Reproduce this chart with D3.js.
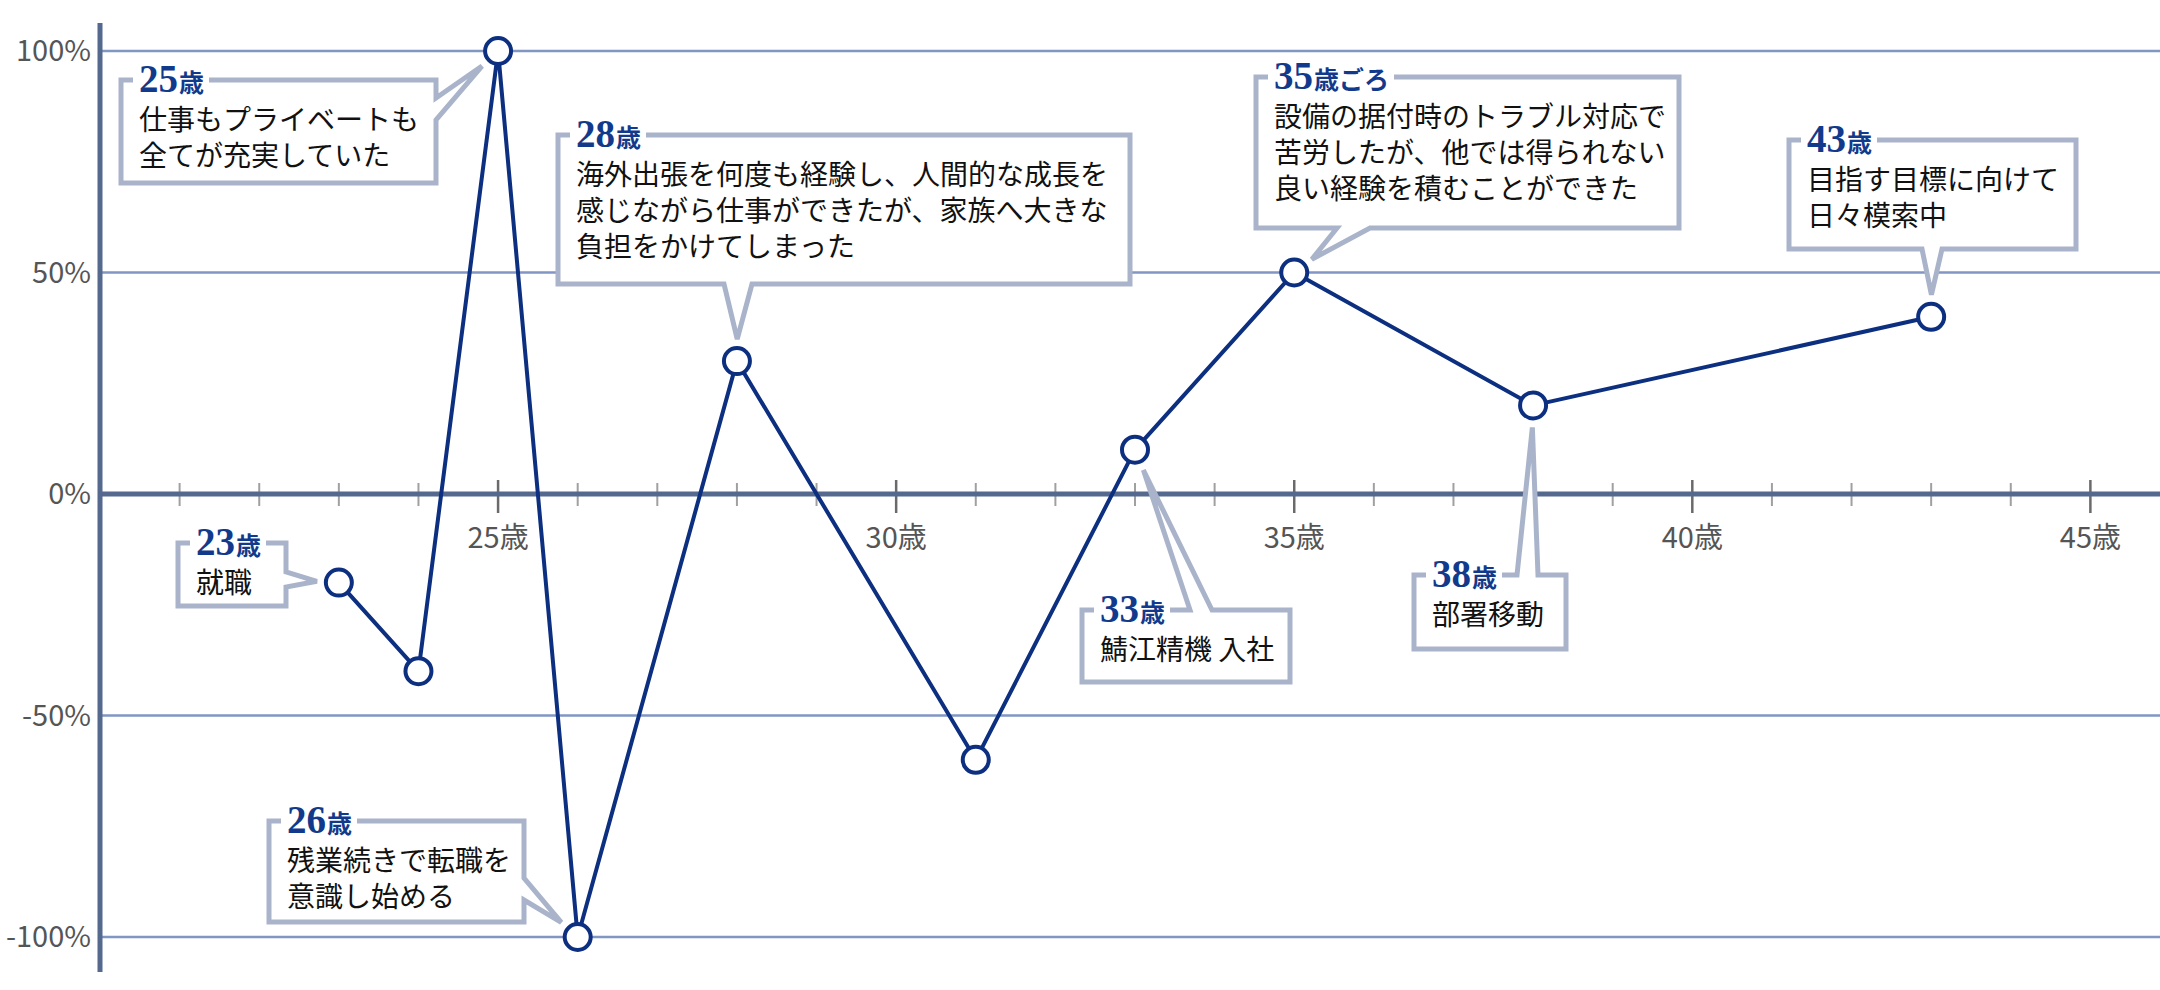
<!DOCTYPE html>
<html>
<head>
<meta charset="utf-8">
<script src="https://cdn.jsdelivr.net/npm/d3@7"></script>
<style>
  body { margin: 0; background: #fff; }
  svg { display: block; }
</style>
</head>
<body>
<svg id="chart" width="2160" height="990"></svg>
<script>
// ---- data ----
const ages = [23, 24, 25, 26, 28, 31, 33, 35, 38, 43];
const values = [-20, -40, 100, -100, 30, -60, 10, 50, 20, 40];

const yTicks = [100, 50, 0, -50, -100];
const xMajor = [25, 30, 35, 40, 45];
const xMinor = d3.range(21, 46).filter(a => a % 5 != 0);

const noteAges = [23, 25, 26, 28, 33, 35, 38, 43];
const noteNums = ["23", "25", "26", "28", "33", "35", "38", "43"];
const noteSuffix = ["歳", "歳", "歳", "歳", "歳", "歳ごろ", "歳", "歳"];
const noteLines = [
    ["就職"],
    ["仕事もプライベートも", "全てが充実していた"],
    ["残業続きで転職を", "意識し始める"],
    ["海外出張を何度も経験し、人間的な成長を", "感じながら仕事ができたが、家族へ大きな", "負担をかけてしまった"],
    ["鯖江精機 入社"],
    ["設備の据付時のトラブル対応で", "苦労したが、他では得られない", "良い経験を積むことができた"],
    ["部署移動"],
    ["目指す目標に向けて", "日々模索中"]
];

// box layout (pixels): [left, top, right, bottom], side of the pointer, pointer base
const noteBoxes = [
    {r: [178, 543, 286, 606], side: "right", base: [572, 587]},
    {r: [121, 80, 436, 183], side: "right", base: [98, 120]},
    {r: [269, 821, 524, 922], side: "right", base: [878, 900]},
    {r: [558, 135, 1130, 284], side: "bottom", base: [724, 752]},
    {r: [1082, 610, 1290, 682], side: "top", base: [1190, 1212]},
    {r: [1256, 77, 1679, 228], side: "bottom", base: [1337, 1370]},
    {r: [1414, 575, 1566, 649], side: "top", base: [1517, 1538]},
    {r: [1789, 140, 2076, 249], side: "bottom", base: [1922, 1942]}
];

const navy = "#0c2f80";
const boxColor = "#a9b4cb";
const gridColor = "#8196c3";
const axisColor = "#55698f";
const jpFont = "'Noto Sans CJK JP', 'Noto Sans', sans-serif";

const svg = d3.select("#chart");

const x = d3.scaleLinear().domain([20, 46]).range([100, 2170]);
const y = d3.scaleLinear().domain([-100, 100]).range([937, 51]);

// gridlines
svg.append("g")
    .selectAll("line")
    .data(yTicks.filter(d => d != 0))
    .join("line")
    .attr("x1", x(20)).attr("x2", 2160)
    .attr("y1", d => y(d)).attr("y2", d => y(d))
    .attr("stroke", gridColor)
    .attr("stroke-width", 2.5);

// y labels
svg.append("g")
    .selectAll("text")
    .data(yTicks)
    .join("text")
    .attr("x", 91)
    .attr("y", d => y(d) + 10)
    .attr("text-anchor", "end")
    .attr("font-family", jpFont)
    .attr("font-size", 29)
    .attr("fill", "#555")
    .text(d => d + "%");

// x axis (0% line) with ticks
const xAxis = svg.append("g");
xAxis.selectAll("line.minor")
    .data(xMinor)
    .join("line")
    .attr("class", "minor")
    .attr("x1", d => x(d)).attr("x2", d => x(d))
    .attr("y1", y(0) - 11).attr("y2", y(0) + 12)
    .attr("stroke", "#a0a0a0")
    .attr("stroke-width", 2);
xAxis.selectAll("line.major")
    .data(xMajor)
    .join("line")
    .attr("class", "major")
    .attr("x1", d => x(d)).attr("x2", d => x(d))
    .attr("y1", y(0) - 14).attr("y2", y(0) + 19)
    .attr("stroke", "#6a6a6a")
    .attr("stroke-width", 2.5);
xAxis.append("line")
    .attr("x1", x(20)).attr("x2", 2160)
    .attr("y1", y(0)).attr("y2", y(0))
    .attr("stroke", axisColor)
    .attr("stroke-width", 5);
xAxis.selectAll("text")
    .data(xMajor)
    .join("text")
    .attr("x", d => x(d))
    .attr("y", y(0) + 54)
    .attr("text-anchor", "middle")
    .attr("font-family", jpFont)
    .attr("font-size", 29)
    .attr("fill", "#555")
    .text(d => d + "歳");

// y axis line
svg.append("line")
    .attr("x1", x(20)).attr("x2", x(20))
    .attr("y1", 23).attr("y2", 972)
    .attr("stroke", axisColor)
    .attr("stroke-width", 5);

// annotation boxes
function boxPath(b, tip) {
    let [x0, y0, x1, y1] = b.r;
    let [a, c] = b.base;
    let p = d3.path();
    p.moveTo(x0, y0);
    if (b.side == "top") {
        p.lineTo(a, y0); p.lineTo(tip[0], tip[1]); p.lineTo(c, y0);
    }
    p.lineTo(x1, y0);
    if (b.side == "right") {
        p.lineTo(x1, a); p.lineTo(tip[0], tip[1]); p.lineTo(x1, c);
    }
    p.lineTo(x1, y1);
    if (b.side == "bottom") {
        p.lineTo(c, y1); p.lineTo(tip[0], tip[1]); p.lineTo(a, y1);
    }
    p.lineTo(x0, y1);
    p.closePath();
    return p.toString();
}

const notes = svg.append("g");
noteAges.forEach(function(age, i) {
    let b = noteBoxes[i];
    let v = values[ages.indexOf(age)];
    let cx = x(age), cy = y(v);
    let [x0, y0, x1, y1] = b.r;
    let mx, my;
    if (b.side == "right") { mx = x1; my = (b.base[0] + b.base[1]) / 2; }
    else if (b.side == "top") { mx = (b.base[0] + b.base[1]) / 2; my = y0; }
    else { mx = (b.base[0] + b.base[1]) / 2; my = y1; }
    let len = Math.hypot(mx - cx, my - cy);
    let tip = [cx + (mx - cx) / len * 22, cy + (my - cy) / len * 22];

    let g = notes.append("g");
    g.append("path")
        .attr("d", boxPath(b, tip))
        .attr("fill", "#fff")
        .attr("stroke", boxColor)
        .attr("stroke-width", 5)
        .attr("stroke-linejoin", "miter");

    let tx = x0 + 18;
    let title = g.append("text")
        .attr("x", tx)
        .attr("y", y0 + 12)
        .attr("fill", "#123a8c");
    title.append("tspan")
        .attr("font-family", "'Liberation Serif', 'DejaVu Serif', serif")
        .attr("font-weight", "bold")
        .attr("font-size", 39)
        .text(noteNums[i]);
    title.append("tspan")
        .attr("font-family", jpFont)
        .attr("font-weight", "bold")
        .attr("font-size", 25)
        .attr("dx", 1)
        .text(noteSuffix[i]);
    let tw = title.node().getComputedTextLength();
    g.insert("rect", "text")
        .attr("x", tx - 6)
        .attr("y", y0 - 4)
        .attr("width", tw + 12)
        .attr("height", 8)
        .attr("fill", "#fff");

    g.selectAll("text.body")
        .data(noteLines[i])
        .join("text")
        .attr("class", "body")
        .attr("x", tx)
        .attr("y", (d, j) => y0 + 50 + j * 36)
        .attr("font-family", jpFont)
        .attr("font-size", 28)
        .attr("fill", "#111")
        .text(d => d);
});

// line + points
const points = ages.map((a, i) => [a, values[i]]);
svg.append("path")
    .datum(points)
    .attr("d", d3.line().x(d => x(d[0])).y(d => y(d[1])))
    .attr("fill", "none")
    .attr("stroke", navy)
    .attr("stroke-width", 4)
    .attr("stroke-linejoin", "round");

svg.append("g")
    .selectAll("circle")
    .data(points)
    .join("circle")
    .attr("cx", d => x(d[0]))
    .attr("cy", d => y(d[1]))
    .attr("r", 13)
    .attr("fill", "#fff")
    .attr("stroke", navy)
    .attr("stroke-width", 4);
</script>
</body>
</html>
